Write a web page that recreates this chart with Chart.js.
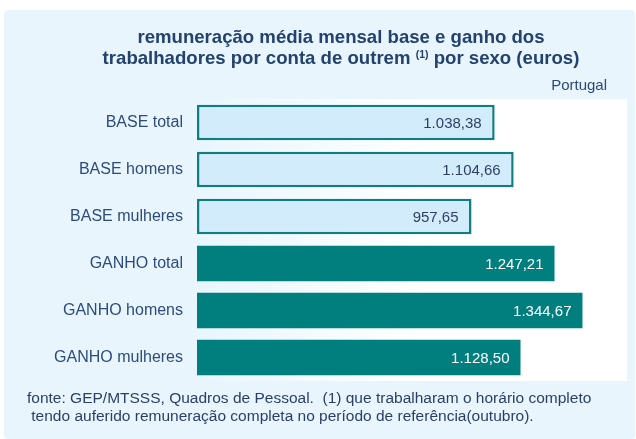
<!DOCTYPE html>
<html>
<head>
<meta charset="utf-8">
<script src="https://cdn.jsdelivr.net/npm/chart.js@4"></script>
<style>
  html, body { margin: 0; padding: 0; width: 636px; height: 439px; background: #ffffff; overflow: hidden; }
  #panel { position: absolute; left: 4px; top: 10px; width: 631px; height: 429px; background: #e8f5fd; border-radius: 4px; }
  #wrap { position: absolute; left: 0; top: 0; width: 636px; height: 439px; }
  .t { position: absolute; font-family: "Liberation Sans", Arial, sans-serif; white-space: pre; }
  #title { left: 0; width: 682px; top: 26px; text-align: center; font-weight: bold; font-size: 18.6px; line-height: 21px; color: #23426e; }
  #title sup { font-size: 10.5px; vertical-align: 0; position: relative; top: -6px; }
  #sub { right: 29px; top: 76px; font-size: 15px; color: #2c4a76; }
  #foot { left: 27px; top: 389px; font-size: 15.5px; line-height: 18px; color: #2a3f66; }
</style>
</head>
<body>
<div id="panel"></div>
<div id="wrap"><canvas id="c" width="636" height="439"></canvas></div>
<div class="t" id="title">remuneração média mensal base e ganho dos<br>trabalhadores por conta de outrem <sup>(1)</sup> por sexo (euros)</div>
<div class="t" id="sub">Portugal</div>
<div class="t" id="foot">fonte: GEP/MTSSS, Quadros de Pessoal.  (1) que trabalharam o horário completo
 tendo auferido remuneração completa no período de referência(outubro).</div>
<script>
const categories = ["BASE total", "BASE homens", "BASE mulheres", "GANHO total", "GANHO homens", "GANHO mulheres"];
const values = [1038.38, 1104.66, 957.65, 1247.21, 1344.67, 1128.50];
const valueLabels = ["1.038,38", "1.104,66", "957,65", "1.247,21", "1.344,67", "1.128,50"];
const xMax = 1500;

const LIGHT = "#d3ecfb", TEAL = "#007f7e", BORDER = "#0e7f7c";

const bgPlugin = {
  id: "plotBg",
  beforeDraw(chart) {
    const { ctx, chartArea: a } = chart;
    const g = ctx.createLinearGradient(a.left - 10, 0, a.right, 0);
    g.addColorStop(0, "#e8f5fd");
    g.addColorStop(0.55, "#ffffff");
    g.addColorStop(1, "#ffffff");
    ctx.save();
    ctx.fillStyle = g;
    ctx.fillRect(a.left - 10, a.top, a.right - a.left + 10, a.bottom - a.top);
    ctx.restore();
  }
};

const valuePlugin = {
  id: "vals",
  afterDatasetsDraw(chart) {
    const { ctx } = chart;
    const meta = chart.getDatasetMeta(0);
    ctx.save();
    ctx.font = "15px 'Liberation Sans', Arial, sans-serif";
    ctx.textAlign = "right";
    ctx.textBaseline = "middle";
    meta.data.forEach((bar, i) => {
      ctx.fillStyle = i < 3 ? "#2e3f63" : "#ffffff";
      ctx.fillText(valueLabels[i], bar.x - (i < 3 ? 13 : 11), bar.y + 1);
    });
    ctx.restore();
  }
};

new Chart(document.getElementById("c"), {
  type: "bar",
  data: {
    labels: categories,
    datasets: [{
      data: values,
      backgroundColor: values.map((v, i) => i < 3 ? LIGHT : TEAL),
      borderColor: values.map((v, i) => i < 3 ? BORDER : TEAL),
      borderWidth: values.map((v, i) => i < 3 ? 2.5 : 0),
      borderSkipped: false,
      categoryPercentage: 1,
      barPercentage: 0.76
    }]
  },
  options: {
    indexAxis: "y",
    responsive: false,
    animation: false,
    devicePixelRatio: 1,
    layout: { padding: { left: 0, right: 9, top: 99, bottom: 58 } },
    plugins: { legend: { display: false }, tooltip: { enabled: false } },
    scales: {
      x: { min: 0, max: xMax, display: false, grid: { display: false } },
      y: {
        grid: { display: false, drawTicks: false },
        border: { display: false },
        ticks: {
          color: "#2c4c7c",
          padding: 14,
          font: { family: "'Liberation Sans', Arial, sans-serif", size: 16 }
        },
        afterFit(scale) { scale.width = 197; }
      }
    }
  },
  plugins: [bgPlugin, valuePlugin]
});
</script>
</body>
</html>
